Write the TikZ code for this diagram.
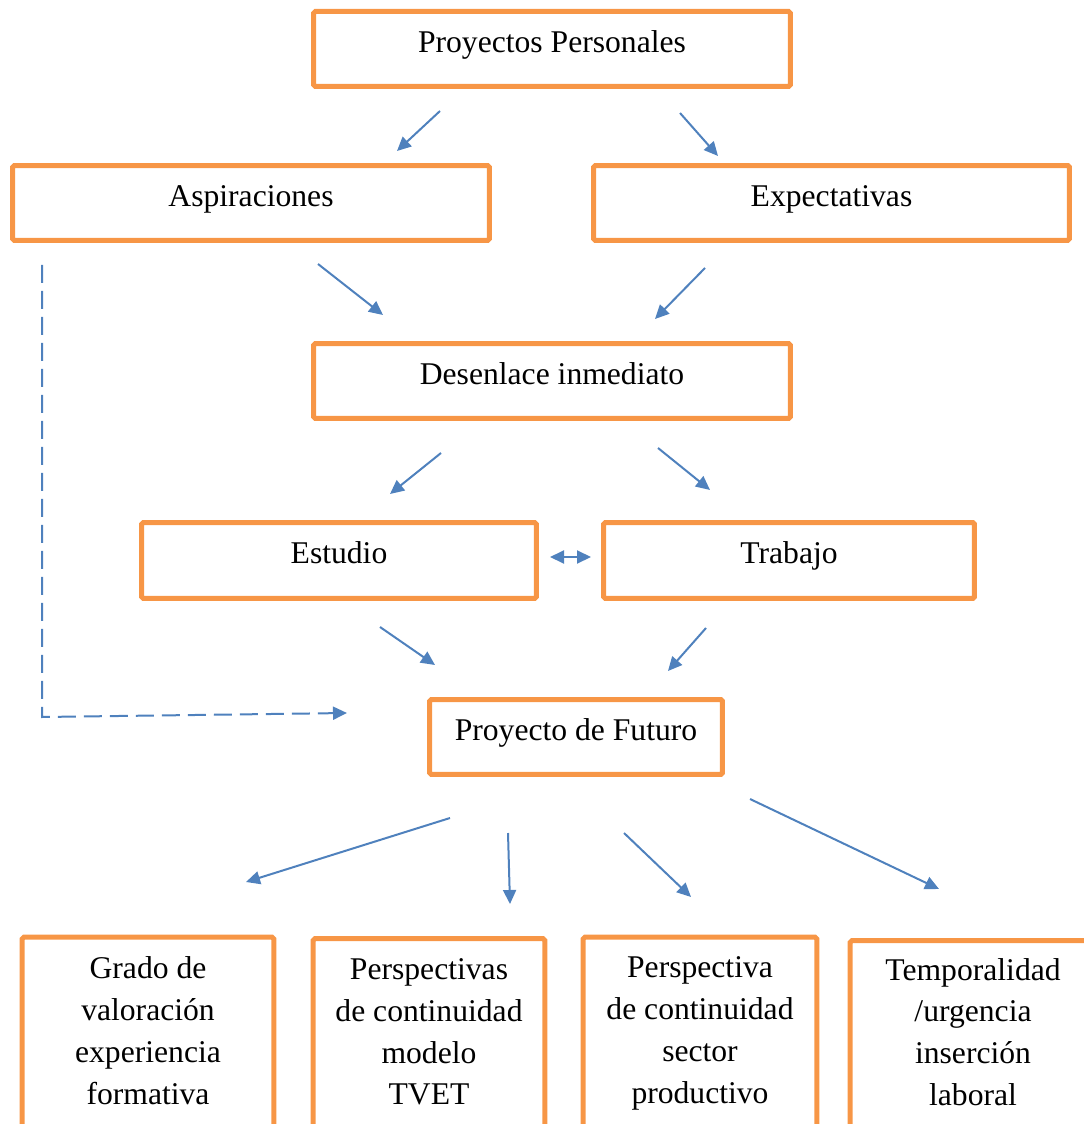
\documentclass[tikz,border=0pt]{standalone}
\usepackage{fontspec}
\setmainfont{Liberation Serif}
\usetikzlibrary{arrows.meta}
\definecolor{boxorange}{HTML}{F79646}
\definecolor{arrowblue}{HTML}{4F81BD}
\newcommand*{\picW}{1083}
\newcommand*{\picH}{1124}

\tikzset{
  box/.style={draw=boxorange, line width=0.1cm, rounded corners=1pt,
    minimum height=1.5cm, text height=13pt, text depth=9.5pt,
    font=\fontsize{18pt}{23.8pt}\selectfont},
  lowbox/.style={minimum height=3.72cm, align=center,
    font=\fontsize{18pt}{23.8pt}\selectfont},
  boxline/.style={draw=boxorange, line width=0.1cm, rounded corners=1pt},
  arr/.style={draw=arrowblue, line width=0.04cm,
    -{Triangle[length=0.28cm,width=0.26cm]}},
  dblarr/.style={draw=arrowblue, line width=0.04cm,
    {Triangle[length=0.28cm,width=0.26cm]}-{Triangle[length=0.28cm,width=0.26cm]}},
  dasharr/.style={arr, dash pattern=on 0.36cm off 0.16cm}
}

\begin{document}
\begin{tikzpicture}[x=0.02cm, y=-0.02cm]
        \useasboundingbox (0,0) rectangle (\picW,\picH);

        % upper boxes
        \node [box, minimum width=9.54cm] (pp)   at (552,49)    {Proyectos Personales};
        \node [box, minimum width=9.54cm] (asp)  at (251,203)   {Aspiraciones};
        \node [box, minimum width=9.52cm] (exp)  at (831.5,203) {Expectativas};
        \node [box, minimum width=9.54cm] (des)  at (552,381)   {Desenlace inmediato};
        \node [box, minimum width=7.9cm, minimum height=1.52cm]  (est)  at (339,560.5) {Estudio};
        \node [box, minimum width=7.42cm, minimum height=1.52cm] (trab) at (789,560.5) {Trabajo};
        \node [box, minimum width=5.86cm] (pf)   at (576,737)   {Proyecto de Futuro};

        % lower boxes, cut by the page edge
        \node [lowbox, minimum width=5.02cm] (grad) at (148,1030.5) {Grado de\\valoración\\experiencia\\formativa};
        \node [lowbox, minimum width=4.62cm] (per)  at (429,1032)   {Perspectivas\\de continuidad\\modelo\\TVET};
        \node [lowbox, minimum width=4.66cm, minimum height=3.84cm] (sec) at (700,1033.5) {Perspectiva\\de continuidad\\sector\\productivo};
        \node [lowbox, minimum width=4.9cm, minimum height=3.64cm]  (tem) at (973,1032)   {Temporalidad\\/urgencia\\inserción\\laboral};
        \foreach \b in {grad,per,sec,tem} {
            \draw [boxline] ([yshift=-0.3cm]\b.south west) -- (\b.north west) -- (\b.north east) -- ([yshift=-0.3cm]\b.south east);
        }

        % arrow ends
        \foreach \n/\x/\y in {
            ppA/440/111, aspA/397/151,
            ppB/680/113, expB/718/156,
            aspC/318/264, desC/383/315,
            expD/705/268, desD/655/319,
            desE/441/453, estE/390/494,
            desF/658/448, trabF/710/490,
            estG/550/557, trabG/591/557,
            estH/380/627, pfH/435/665,
            trabI/706/628, pfI/668/671,
            aspJ/42/265, bendJ/42/717, pfJ/347/713,
            pfK/450/818, gradK/246/882,
            pfL/508/833, perL/510/904,
            pfM/624/833, secM/691/897,
            pfN/750/799, temN/939/889} {
            \coordinate (\n) at (\x,\y);
        }

        \draw [arr] (ppA) -- (aspA);
        \draw [arr] (ppB) -- (expB);
        \draw [arr] (aspC) -- (desC);
        \draw [arr] (expD) -- (desD);
        \draw [arr] (desE) -- (estE);
        \draw [arr] (desF) -- (trabF);
        \draw [dblarr] (estG) -- (trabG);
        \draw [arr] (estH) -- (pfH);
        \draw [arr] (trabI) -- (pfI);
        \draw [dasharr] (aspJ) -- (bendJ) -- (pfJ);
        \draw [arr] (pfK) -- (gradK);
        \draw [arr] (pfL) -- (perL);
        \draw [arr] (pfM) -- (secM);
        \draw [arr] (pfN) -- (temN);
    \end{tikzpicture}
\end{document}
